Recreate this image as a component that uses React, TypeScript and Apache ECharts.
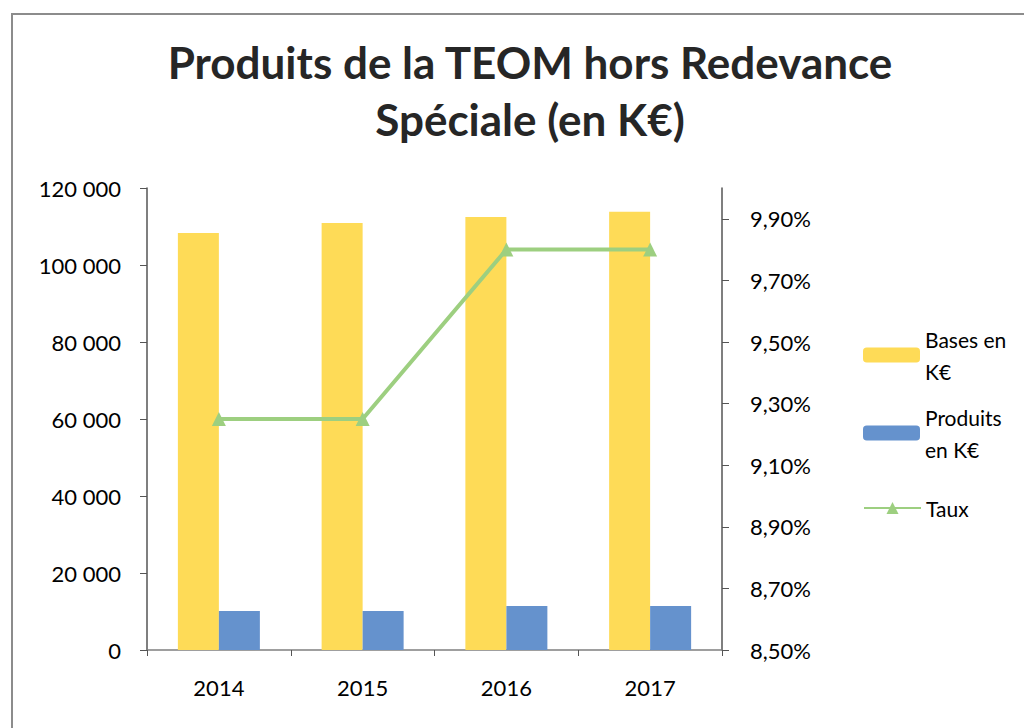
import React, { useEffect, useRef } from "react";
import * as echarts from "echarts";

const categories = ["2014", "2015", "2016", "2017"];
const bases = [108300, 110900, 112500, 113800];
const produits = [10100, 10100, 11400, 11400];
const taux = [9.25, 9.25, 9.8, 9.8];
const seriesNames = ["Bases en K€", "Produits en K€", "Taux"];
const legendLabels = ["Bases en\nK€", "Produits\nen K€", "Taux"];
const titleText = "Produits de la TEOM hors Redevance\nSpéciale (en K€)";

const FONT = "Lato, 'Noto Sans', sans-serif";

export default function App() {
  const ref = useRef<HTMLDivElement>(null);
  useEffect(() => {
    if (!ref.current) return;
    const chart = echarts.init(ref.current, undefined, { renderer: "svg" });
    const fmtThousands = (v: number) => String(v).replace(/\B(?=(\d{3})+(?!\d))/g, " ");
    const fmtPct = (v: number) => v.toFixed(2).replace(".", ",") + "%";
    const legendBase = {
      orient: "vertical" as const,
      left: 863,
      padding: 0,
      itemWidth: 57,
      itemHeight: 15,
      selectedMode: false,
      formatter: (name: string) => legendLabels[seriesNames.indexOf(name)],
    };
    const legendText = { fontFamily: FONT, fontSize: 21, color: "#000", lineHeight: 32 };
    chart.setOption({
      animation: false,
      backgroundColor: "#ffffff",
      title: {
        text: titleText,
        left: 525,
        textAlign: "center",
        top: 28,
        textStyle: {
          fontFamily: FONT,
          fontSize: 44,
          fontWeight: "bold",
          color: "#262626",
          lineHeight: 57,
        },
      },
      graphic: [
        {
          type: "rect",
          shape: { x: 12, y: 14, width: 1100, height: 900 },
          style: { fill: "none", stroke: "#8c8c8c", lineWidth: 2 },
          silent: true,
        },
      ],
      grid: { left: 147, right: 302, top: 188, bottom: 78 },
      legend: [
        {
          ...legendBase,
          top: 307,
          data: [seriesNames[0]],
          textStyle: { ...legendText, padding: [32, 0, 0, 0] },
        },
        {
          ...legendBase,
          top: 385,
          data: [seriesNames[1]],
          textStyle: { ...legendText, padding: [32, 0, 0, 0] },
        },
        {
          ...legendBase,
          top: 492,
          data: [seriesNames[2]],
          textStyle: legendText,
        },
      ],
      xAxis: {
        type: "category",
        data: categories,
        axisLine: { show: true, lineStyle: { color: "#7f7f7f", width: 1.5 } },
        axisTick: { show: true, length: 6, lineStyle: { color: "#555" } },
        axisLabel: { fontFamily: FONT, fontSize: 22, color: "#000", margin: 26 },
      },
      yAxis: [
        {
          type: "value",
          min: 0,
          max: 120000,
          interval: 20000,
          splitLine: { show: false },
          axisLine: { show: true, lineStyle: { color: "#555", width: 1.5 } },
          axisTick: { show: true, length: 7, lineStyle: { color: "#555" } },
          axisLabel: { fontFamily: FONT, fontSize: 22, color: "#000", margin: 26, formatter: fmtThousands },
        },
        {
          type: "value",
          min: 8.5,
          max: 10.0,
          interval: 0.2,
          position: "right",
          splitLine: { show: false },
          axisLine: { show: true, lineStyle: { color: "#555", width: 1.5 } },
          axisTick: { show: true, length: 7, lineStyle: { color: "#555" } },
          axisLabel: {
            fontFamily: FONT,
            fontSize: 22,
            color: "#000",
            margin: 28,
            showMaxLabel: false,
            formatter: fmtPct,
          },
        },
      ],
      series: [
        {
          name: seriesNames[0],
          type: "bar",
          data: bases,
          barWidth: 41,
          barGap: "0%",
          itemStyle: { color: "#FEDB57" },
        },
        {
          name: seriesNames[1],
          type: "bar",
          data: produits,
          barWidth: 41,
          barGap: "0%",
          itemStyle: { color: "#6592CD" },
        },
        {
          name: seriesNames[2],
          type: "line",
          yAxisIndex: 1,
          data: taux,
          symbol: "triangle",
          symbolSize: 14,
          lineStyle: { color: "#9DCF80", width: 4 },
          itemStyle: { color: "#9DCF80" },
        },
      ],
    });
    return () => chart.dispose();
  }, []);
  return (
    <div
      ref={ref}
      style={{ position: "fixed", left: 0, top: 0, width: 1024, height: 728 }}
    />
  );
}
